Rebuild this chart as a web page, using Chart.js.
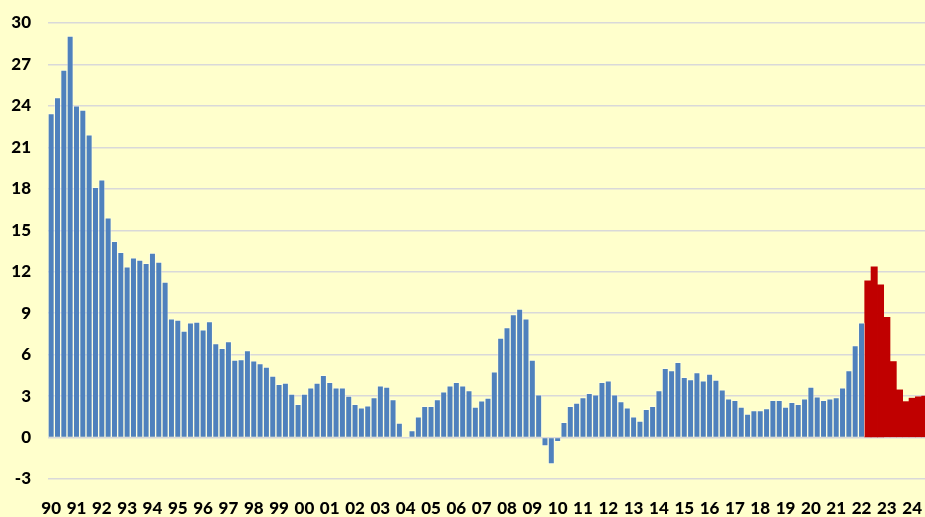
<!DOCTYPE html>
<html>
<head>
<meta charset="utf-8">
<script src="https://cdn.jsdelivr.net/npm/chart.js@4"></script>
<style>
  html, body { margin: 0; padding: 0; background: #ffffcc; overflow: hidden; }
  canvas { display: block; }
</style>
</head>
<body>
<canvas id="chart" width="931" height="517"></canvas>
<script>
// Tick labels (one per year, shown on Q1)
const years = ['90','91','92','93','94','95','96','97','98','99','00','01','02','03','04','05','06',
  '07','08','09','10','11','12','13','14','15','16','17','18','19','20','21','22','23','24'];

// Quarterly values, 1990 Q1 .. 2022 Q1 (blue)
const blueValues = [
  23.45, 24.6, 26.6, 29.05, 24.0, 23.7, 21.9, 18.1, 18.65, 15.9, 14.2, 13.4,
  12.35, 13.0, 12.85, 12.6, 13.35, 12.7, 11.25, 8.6, 8.5, 7.7, 8.3, 8.35,
  7.8, 8.4, 6.8, 6.45, 6.95, 5.6, 5.65, 6.3, 5.55, 5.35, 5.1, 4.45,
  3.85, 3.95, 3.15, 2.4, 3.15, 3.6, 3.95, 4.5, 4.0, 3.6, 3.6, 3.0,
  2.4, 2.15, 2.3, 2.9, 3.75, 3.65, 2.75, 1.05, 0, 0.5, 1.5, 2.25,
  2.25, 2.75, 3.3, 3.75, 4.0, 3.75, 3.4, 2.2, 2.65, 2.85, 4.75, 7.2,
  7.95, 8.9, 9.3, 8.6, 5.6, 3.1, -0.6, -1.9, -0.3, 1.1, 2.25, 2.5,
  2.9, 3.2, 3.1, 4.0, 4.1, 3.1, 2.6, 2.15, 1.5, 1.2, 2.05, 2.25,
  3.4, 5.0, 4.85, 5.45, 4.35, 4.2, 4.7, 4.1, 4.6, 4.15, 3.45, 2.8,
  2.7, 2.2, 1.7, 1.95, 1.95, 2.1, 2.7, 2.7, 2.2, 2.55, 2.4, 2.8,
  3.65, 2.95, 2.7, 2.8, 2.9, 3.6, 4.85, 6.65, 8.3
];

// Quarterly values, 2022 Q2 .. 2024 Q3 (red)
const redValues = [11.35, 12.35, 11.05, 8.7, 5.5, 3.45, 2.6, 2.85, 2.95, 3.0];

const quarters = [];
years.forEach(y => { for (let q = 1; q <= 4; q++) quarters.push(y + ' Q' + q); });
const categories = quarters.slice(0, blueValues.length + redValues.length);

const blueData = categories.map((c, i) => i < blueValues.length ? blueValues[i] : null);
const redData = categories.map((c, i) => i >= blueValues.length ? redValues[i - blueValues.length] : null);

const font = { family: 'Lato', weight: '900', size: 17 };

const ctx = document.getElementById('chart').getContext('2d');
new Chart(ctx, {
  type: 'bar',
  data: {
    labels: categories,
    datasets: [{
      data: blueData,
      backgroundColor: '#4f81bd',
      borderColor: 'rgba(255,255,255,0.35)',
      borderWidth: 1,
      grouped: false,
      barPercentage: 1,
      categoryPercentage: 1
    }, {
      data: redData,
      backgroundColor: '#c00000',
      borderWidth: 0,
      grouped: false,
      barPercentage: 1,
      categoryPercentage: 1
    }]
  },
  options: {
    responsive: false,
    animation: false,
    layout: { padding: { top: 23, right: 3, left: 0, bottom: 0 } },
    plugins: { legend: { display: false }, tooltip: { enabled: false } },
    scales: {
      x: {
        grid: { display: false, drawTicks: false },
        border: { display: false },
        ticks: {
          autoSkip: false,
          maxRotation: 0,
          padding: 19,
          color: '#000',
          font: font,
          callback: function (v, i) {
            return i % 4 === 0 ? years[i / 4] : '';
          }
        },
        afterFit: function (s) {
          s.height = 38;
          s.paddingLeft = 0;
          s.paddingRight = 0;
        }
      },
      y: {
        min: -3,
        max: 30,
        grid: { color: '#d9d9d9', lineWidth: 1.5, drawTicks: false },
        border: { display: false },
        ticks: { stepSize: 3, padding: 17, color: '#000', font: font },
        afterFit: function (s) {
          s.width = 48;
          s.paddingTop = 0;
          s.paddingBottom = 0;
        }
      }
    }
  }
});
</script>
</body>
</html>
